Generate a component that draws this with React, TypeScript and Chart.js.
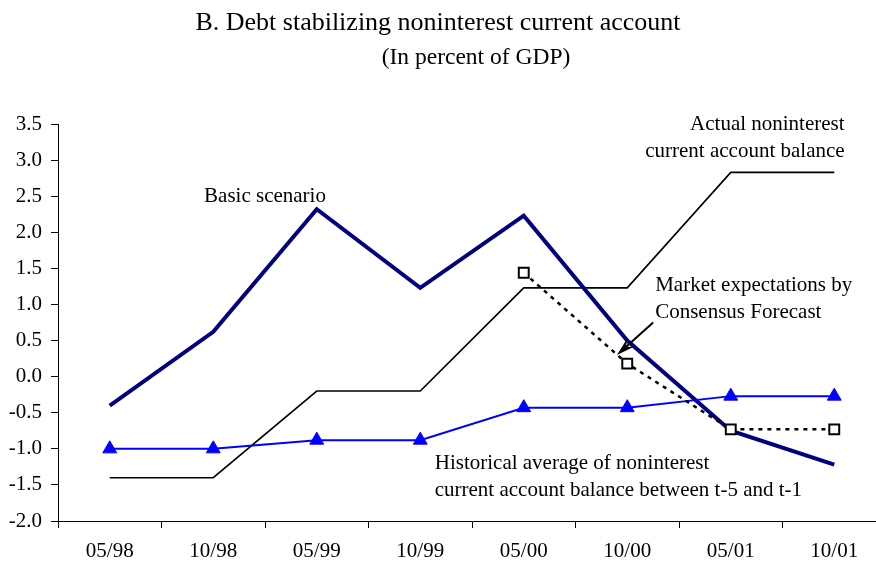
import React, { useEffect, useRef } from "react";
import { Chart, registerables } from "chart.js";

Chart.register(...registerables);

const categories = ["05/98", "10/98", "05/99", "10/99", "05/00", "10/00", "05/01", "10/01"];
const basicScenario = [-0.4, 0.62, 2.32, 1.23, 2.23, 0.5, -0.75, -1.22];
const actualBalance = [-1.4, -1.4, -0.2, -0.2, 1.23, 1.23, 2.83, 2.83];
const historicalAverage = [-1.0, -1.0, -0.88, -0.88, -0.43, -0.43, -0.27, -0.27];
const marketExpectations: (number | null)[] = [null, null, null, null, 1.44, 0.18, -0.73, -0.73];
const yTicks = [-2.0, -1.5, -1.0, -0.5, 0.0, 0.5, 1.0, 1.5, 2.0, 2.5, 3.0, 3.5];

const titleText = "B. Debt stabilizing noninterest current account";
const subtitleText = "(In percent of GDP)";

const annotationLabels = [
  { lines: ["Basic scenario"], at: [1.5, 2.5], align: "center" },
  { lines: ["Actual noninterest", "current account balance"], at: [7.1, 3.49], align: "right" },
  { lines: ["Market expectations by", "Consensus Forecast"], at: [5.27, 1.26], align: "left" },
  {
    lines: ["Historical average of noninterest", "current account balance between t-5 and t-1"],
    at: [3.14, -1.2],
    align: "left",
  },
];
const arrowFrom = [5.25, 0.75];
const arrowTo = [4.9, 0.3];

const FONT = "'Liberation Serif', 'Times New Roman', serif";

const overlayPlugin = {
  id: "overlay",
  afterDraw(chart: any) {
    const ctx = chart.ctx as CanvasRenderingContext2D;
    const xs = chart.scales.x;
    const ys = chart.scales.y;
    ctx.save();
    ctx.fillStyle = "#000";
    ctx.textBaseline = "middle";
    ctx.textAlign = "center";
    ctx.font = `26px ${FONT}`;
    ctx.fillText(titleText, 438, 23);
    ctx.font = `23.5px ${FONT}`;
    ctx.fillText(subtitleText, 476, 58);

    ctx.font = `21px ${FONT}`;
    for (const a of annotationLabels) {
      const px = xs.getPixelForValue(a.at[0]);
      const py = ys.getPixelForValue(a.at[1]);
      ctx.textAlign = a.align as CanvasTextAlign;
      a.lines.forEach((line, i) => ctx.fillText(line, px, py + i * 27));
    }

    const x1 = xs.getPixelForValue(arrowFrom[0]);
    const y1 = ys.getPixelForValue(arrowFrom[1]);
    const x2 = xs.getPixelForValue(arrowTo[0]);
    const y2 = ys.getPixelForValue(arrowTo[1]);
    const ang = Math.atan2(y2 - y1, x2 - x1);
    ctx.strokeStyle = "#000";
    ctx.lineWidth = 2;
    ctx.beginPath();
    ctx.moveTo(x1, y1);
    ctx.lineTo(x2 - Math.cos(ang) * 8, y2 - Math.sin(ang) * 8);
    ctx.stroke();
    const hl = 19;
    const hw = 0.28;
    ctx.beginPath();
    ctx.moveTo(x2, y2);
    ctx.lineTo(x2 - hl * Math.cos(ang - hw), y2 - hl * Math.sin(ang - hw));
    ctx.lineTo(x2 - hl * 0.65 * Math.cos(ang), y2 - hl * 0.65 * Math.sin(ang));
    ctx.lineTo(x2 - hl * Math.cos(ang + hw), y2 - hl * Math.sin(ang + hw));
    ctx.closePath();
    ctx.fill();
    ctx.restore();
  },
};

export default function App() {
  const canvasRef = useRef<HTMLCanvasElement | null>(null);

  useEffect(() => {
    const canvas = canvasRef.current;
    if (!canvas) return;
    const chart = new Chart(canvas, {
      type: "line",
      data: {
        labels: categories,
        datasets: [
          {
            label: "Market expectations by Consensus Forecast",
            data: marketExpectations,
            borderColor: "#000",
            borderWidth: 2.5,
            borderDash: [4, 5],
            pointStyle: "rect",
            pointRadius: 7,
            pointBorderWidth: 2,
            pointBackgroundColor: "#fff",
            pointBorderColor: "#000",
            tension: 0,
            order: 0,
          },
          {
            label: "Historical average",
            data: historicalAverage,
            borderColor: "#0000ff",
            borderWidth: 2,
            pointStyle: "triangle",
            pointRadius: 8,
            pointBackgroundColor: "#0000ff",
            pointBorderColor: "#0000ff",
            pointBorderWidth: 1,
            tension: 0,
            order: 1,
          },
          {
            label: "Basic scenario",
            data: basicScenario,
            borderColor: "#000080",
            borderWidth: 4,
            pointRadius: 0,
            tension: 0,
            order: 2,
          },
          {
            label: "Actual noninterest current account balance",
            data: actualBalance,
            borderColor: "#000",
            borderWidth: 1.6,
            pointRadius: 0,
            tension: 0,
            order: 3,
          },
        ],
      },
      options: {
        animation: false,
        responsive: false,
        maintainAspectRatio: false,
        layout: { padding: { left: 0, right: 0, top: 124, bottom: 0 } },
        plugins: {
          legend: { display: false },
          title: { display: false },
          tooltip: { enabled: false },
        },
        scales: {
          x: {
            type: "category",
            offset: true,
            grid: {
              offset: true,
              drawOnChartArea: false,
              drawTicks: true,
              tickLength: 7,
              color: "#000",
              lineWidth: 1,
            },
            border: { display: true, color: "#000", width: 1 },
            ticks: {
              color: "#000",
              font: { family: FONT, size: 21 },
              padding: 11,
              maxRotation: 0,
              autoSkip: false,
            },
            afterFit: (scale: any) => {
              scale.height = 44;
            },
          },
          y: {
            min: -2,
            max: 3.5,
            grid: {
              drawOnChartArea: false,
              drawTicks: true,
              tickLength: 7,
              color: "#000",
              lineWidth: 1,
            },
            border: { display: true, color: "#000", width: 1 },
            ticks: {
              color: "#000",
              font: { family: FONT, size: 21 },
              padding: 9,
              callback: (v: any) => Number(v).toFixed(1),
            },
            afterBuildTicks: (scale: any) => {
              scale.ticks = yTicks.map((v) => ({ value: v }));
            },
            afterFit: (scale: any) => {
              scale.width = 58;
            },
          },
        },
      },
      plugins: [overlayPlugin],
    });
    return () => chart.destroy();
  }, []);

  return (
    <div
      style={{
        position: "absolute",
        left: 0,
        top: 0,
        width: 876,
        height: 565,
        overflow: "hidden",
        background: "#fff",
      }}
    >
      <canvas ref={canvasRef} width={895} height={565} style={{ width: 895, height: 565, display: "block" }} />
    </div>
  );
}
